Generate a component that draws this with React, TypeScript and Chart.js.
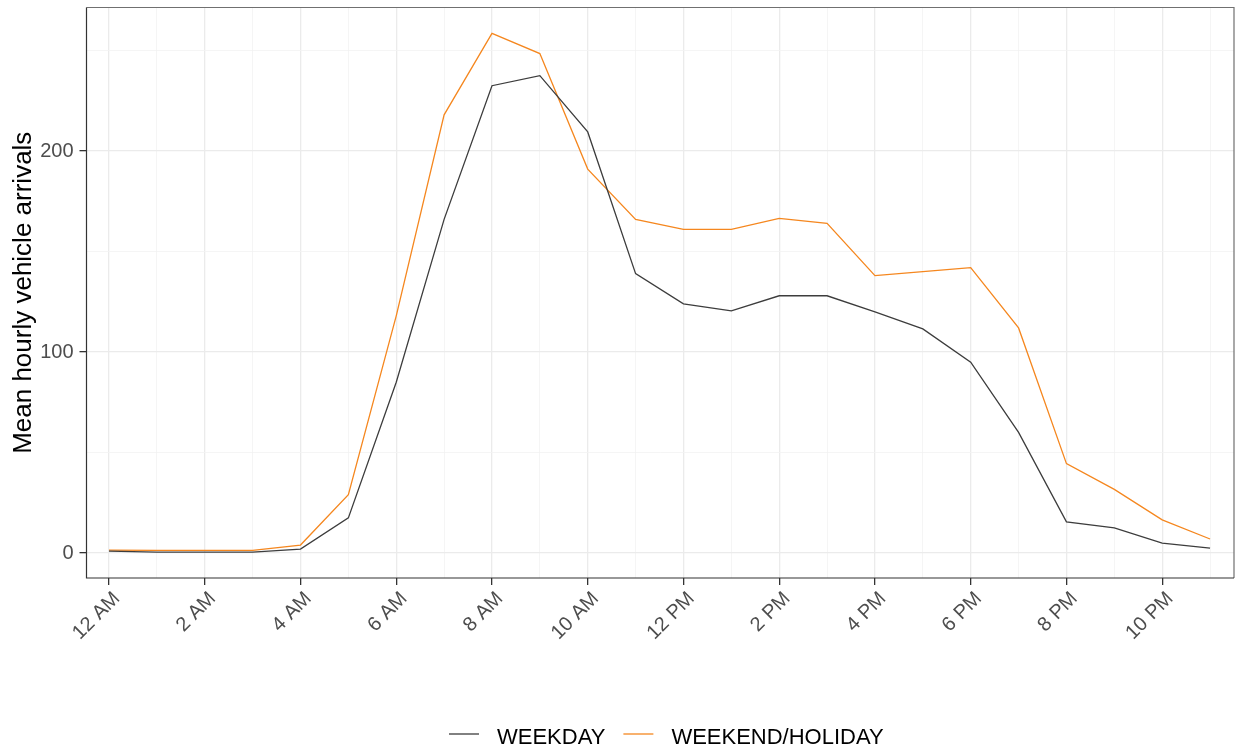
import { useEffect, useRef } from "react";
import { Chart, registerables } from "chart.js";

Chart.register(...registerables);

const hours = [0, 1, 2, 3, 4, 5, 6, 7, 8, 9, 10, 11, 12, 13, 14, 15, 16, 17, 18, 19, 20, 21, 22, 23];
const hourLabels = [
  "12 AM", "1 AM", "2 AM", "3 AM", "4 AM", "5 AM", "6 AM", "7 AM", "8 AM", "9 AM", "10 AM", "11 AM",
  "12 PM", "1 PM", "2 PM", "3 PM", "4 PM", "5 PM", "6 PM", "7 PM", "8 PM", "9 PM", "10 PM", "11 PM",
];
const weekday = [1, 0.5, 0.5, 0.5, 2, 17.5, 85, 166, 232.5, 237.5, 209.5, 139, 124, 120.5, 128, 128, 120, 111.5, 95, 60, 15.5, 12.5, 5, 2.5];
const weekendHoliday = [1.5, 1.3, 1.3, 1.3, 4, 29, 118, 218, 258.5, 248.5, 191, 166, 161, 161, 166.5, 164, 138, 140, 142, 112, 44.5, 31.7, 16.5, 7];
const seriesNames = ["WEEKDAY", "WEEKEND/HOLIDAY"];
const seriesColors = ["#3d3d3d", "#f5871f"];
const yTitle = "Mean hourly vehicle arrivals";

const FONT = "'Liberation Sans', Arial, sans-serif";

export default function App() {
  const ref = useRef<HTMLCanvasElement>(null);

  useEffect(() => {
    if (!ref.current) return;

    const panelBorder = {
      id: "panelBorder",
      afterDraw(chart: any) {
        const { ctx, chartArea: a } = chart;
        ctx.save();
        ctx.strokeStyle = "#707070";
        ctx.lineWidth = 1.2;
        ctx.beginPath();
        ctx.moveTo(a.left, a.top);
        ctx.lineTo(a.right, a.top);
        ctx.lineTo(a.right, a.bottom);
        ctx.stroke();
        ctx.strokeStyle = "#333333";
        ctx.beginPath();
        ctx.moveTo(a.left, a.top);
        ctx.lineTo(a.left, a.bottom);
        ctx.lineTo(a.right, a.bottom);
        ctx.stroke();
        ctx.restore();
      },
    };

    const legendPlugin = {
      id: "customLegend",
      afterDraw(chart: any) {
        const { ctx } = chart;
        ctx.save();
        ctx.font = `22px ${FONT}`;
        ctx.textBaseline = "alphabetic";
        ctx.textAlign = "left";
        const baseline = 744;
        const lineY = 734;
        let x = 449;
        seriesNames.forEach((name, i) => {
          ctx.strokeStyle = seriesColors[i];
          ctx.lineWidth = 1.3;
          ctx.beginPath();
          ctx.moveTo(x, lineY);
          ctx.lineTo(x + 30, lineY);
          ctx.stroke();
          x += 48;
          ctx.fillStyle = "#000000";
          ctx.fillText(name, x, baseline);
          x += ctx.measureText(name).width + 18;
        });
        ctx.restore();
      },
    };

    const chart = new Chart(ref.current, {
      type: "line",
      data: {
        datasets: [
          {
            label: seriesNames[0],
            data: hours.map((h, i) => ({ x: h, y: weekday[i] })),
            borderColor: seriesColors[0],
            borderWidth: 1.3,
            pointRadius: 0,
            tension: 0,
            fill: false,
          },
          {
            label: seriesNames[1],
            data: hours.map((h, i) => ({ x: h, y: weekendHoliday[i] })),
            borderColor: seriesColors[1],
            borderWidth: 1.3,
            pointRadius: 0,
            tension: 0,
            fill: false,
          },
        ],
      },
      options: {
        animation: false,
        responsive: false,
        maintainAspectRatio: false,
        layout: { padding: { left: 0, top: 7.5, right: 2, bottom: 0 } },
        plugins: {
          legend: { display: false },
          tooltip: { enabled: false },
        },
        scales: {
          x: {
            type: "linear",
            min: -0.47,
            max: 23.5,
            afterFit(scale: any) {
              scale.height = 168;
              scale.paddingLeft = 0;
              scale.paddingRight = 0;
            },
            border: { display: false },
            grid: {
              color: (c: any) => (c.tick && c.tick.value % 2 === 0 ? "#ebebeb" : "#f3f3f3"),
              lineWidth: (c: any) => (c.tick && c.tick.value % 2 === 0 ? 1.3 : 0.8),
              tickColor: (c: any) => (c.tick && c.tick.value % 2 === 0 ? "#333333" : "rgba(0,0,0,0)"),
              tickLength: 7,
              drawTicks: true,
            },
            ticks: {
              stepSize: 1,
              includeBounds: false,
              autoSkip: false,
              maxTicksLimit: 100,
              minRotation: 45,
              maxRotation: 45,
              padding: 2,
              labelOffset: 8,
              color: "#4d4d4d",
              font: { family: FONT, size: 20 },
              callback: (v: any) => (Number(v) % 2 === 0 ? hourLabels[Number(v)] : ""),
            },
          },
          y: {
            type: "linear",
            min: -12.4,
            max: 271.4,
            afterFit(scale: any) {
              scale.width = 86.5;
              scale.paddingTop = 0;
              scale.paddingBottom = 0;
            },
            border: { display: false },
            grid: {
              color: (c: any) => (c.tick && c.tick.value % 100 === 0 ? "#ebebeb" : "#f3f3f3"),
              lineWidth: (c: any) => (c.tick && c.tick.value % 100 === 0 ? 1.3 : 0.8),
              tickColor: (c: any) => (c.tick && c.tick.value % 100 === 0 ? "#333333" : "rgba(0,0,0,0)"),
              tickLength: 7,
              drawTicks: true,
            },
            ticks: {
              stepSize: 50,
              includeBounds: false,
              autoSkip: false,
              padding: 6,
              color: "#4d4d4d",
              font: { family: FONT, size: 20 },
              callback: (v: any) => (Number(v) % 100 === 0 ? String(v) : ""),
            },
            title: {
              display: true,
              text: yTitle,
              color: "#000000",
              font: { family: FONT, size: 26 },
              padding: { top: 8, bottom: 0 },
            },
          },
        },
      },
      plugins: [panelBorder, legendPlugin],
    });

    return () => chart.destroy();
  }, []);

  return (
    <div style={{ position: "fixed", left: 0, top: 0, width: 1236, height: 746, background: "#ffffff" }}>
      <canvas ref={ref} width={1236} height={746} style={{ display: "block", width: 1236, height: 746 }} />
    </div>
  );
}
